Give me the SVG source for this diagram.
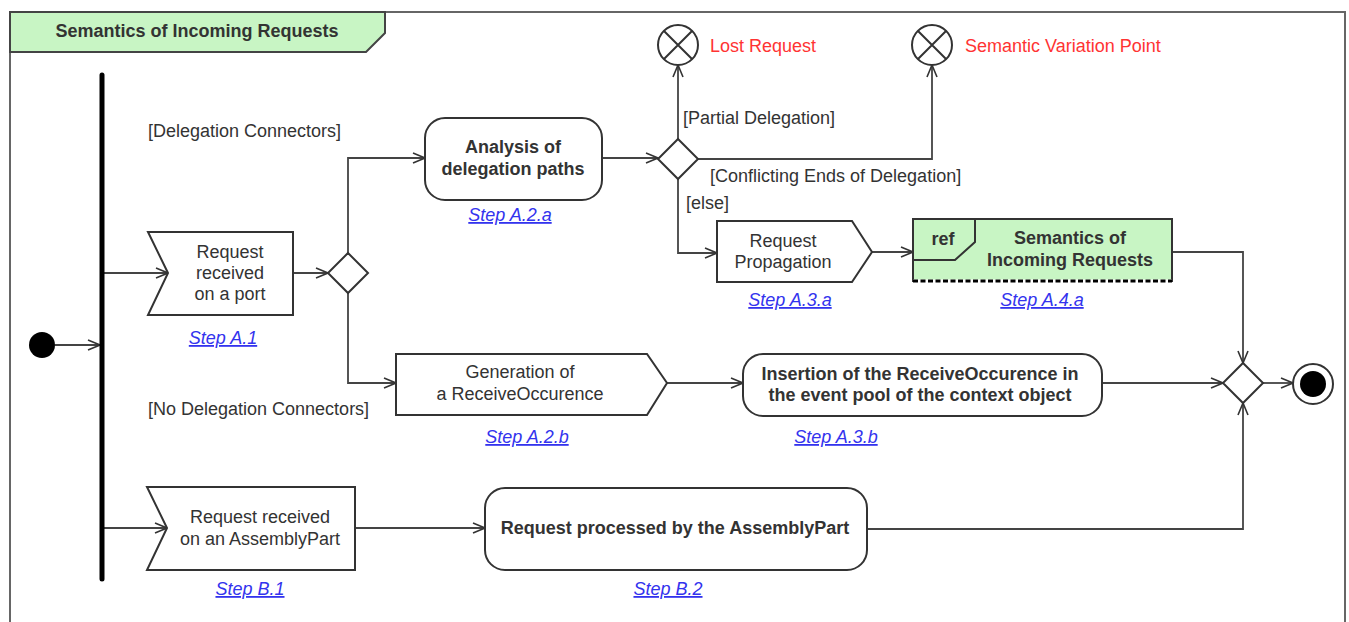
<svg xmlns="http://www.w3.org/2000/svg" width="1349" height="622" viewBox="0 0 1349 622">
<style>
text{font-family:"Liberation Sans",Arial,sans-serif;font-size:18px;fill:#333}
.b{font-weight:bold}
.c{text-anchor:middle}
.red{fill:#ff3333}
.lnk{fill:#3333ee;font-style:italic;text-decoration:underline;text-anchor:middle}
.node{fill:#fff;stroke:#333;stroke-width:2}
.green{fill:#c8f5c4}
.edge{fill:none;stroke:#444;stroke-width:1.8}
</style>
<defs>
<marker id="arr" viewBox="0 0 14 12" refX="13" refY="6" markerWidth="14" markerHeight="12" markerUnits="userSpaceOnUse" orient="auto">
<path d="M1,1 L13,6 L1,11" fill="none" stroke="#333" stroke-width="1.6"/>
</marker>
</defs>
<rect width="1349" height="622" fill="#fff"/>
<g id="frame">
<path d="M10,622 V12 H1345 V622" fill="none" stroke="#666" stroke-width="2"/>
<path d="M10,12 H385 V33 L366,52 H10 Z" class="green" stroke="#444" stroke-width="2"/>
<text class="b c" x="197" y="37">Semantics of Incoming Requests</text>
</g>
<g id="connectors">
<path class="edge" d="M55,345 H100" marker-end="url(#arr)"/>
<path class="edge" d="M104,273 H168" marker-end="url(#arr)"/>
<path class="edge" d="M104,528 H167" marker-end="url(#arr)"/>
<path class="edge" d="M293,273 H328" marker-end="url(#arr)"/>
<path class="edge" d="M348,253 V158 H425" marker-end="url(#arr)"/>
<path class="edge" d="M348,293 V383 H396" marker-end="url(#arr)"/>
<path class="edge" d="M602,158 H658" marker-end="url(#arr)"/>
<path class="edge" d="M678,139 V65" marker-end="url(#arr)"/>
<path class="edge" d="M698,159 H932 V65" marker-end="url(#arr)"/>
<path class="edge" d="M678,179 V253 H717" marker-end="url(#arr)"/>
<path class="edge" d="M872,252 H913" marker-end="url(#arr)"/>
<path class="edge" d="M1172,252 H1243 V363" marker-end="url(#arr)"/>
<path class="edge" d="M667,383 H743" marker-end="url(#arr)"/>
<path class="edge" d="M1102,383 H1223" marker-end="url(#arr)"/>
<path class="edge" d="M355,528 H485" marker-end="url(#arr)"/>
<path class="edge" d="M867,529 H1243 V403" marker-end="url(#arr)"/>
<path class="edge" d="M1263,383 H1293" marker-end="url(#arr)"/>
<text x="148" y="137">[Delegation Connectors]</text>
<text x="148" y="415">[No Delegation Connectors]</text>
<text x="683" y="124">[Partial Delegation]</text>
<text x="710" y="182">[Conflicting Ends of Delegation]</text>
<text x="686" y="209">[else]</text>
</g>
<g id="initial"><circle cx="42" cy="345" r="13" fill="#000"/></g>
<g id="fork"><line x1="102" y1="75" x2="102" y2="579" stroke="#000" stroke-width="5" stroke-linecap="round"/></g>
<g id="stepA1">
<path class="node" d="M148,232 H293 V315 H148 L168,273 Z"/>
<text class="c" x="230" y="258">Request</text>
<text class="c" x="230" y="279">received</text>
<text class="c" x="230" y="300">on a port</text>
<text class="lnk" x="223" y="344">Step A.1</text>
</g>
<g id="decision1"><path class="node" d="M348,253 L368,273 L348,293 L328,273 Z"/></g>
<g id="stepA2a">
<rect class="node" x="425" y="118" width="177" height="82" rx="20"/>
<text class="b c" x="513" y="153">Analysis of</text>
<text class="b c" x="513" y="175">delegation paths</text>
<text class="lnk" x="510" y="221">Step A.2.a</text>
</g>
<g id="decision2"><path class="node" d="M678,139 L698,159 L678,179 L658,159 Z"/></g>
<g id="lostRequest">
<circle class="node" cx="678" cy="45" r="20"/>
<path d="M664,31 L692,59 M692,31 L664,59" stroke="#333" stroke-width="2"/>
<text class="red" x="710" y="52">Lost Request</text>
</g>
<g id="semanticVariation">
<circle class="node" cx="932" cy="45" r="20"/>
<path d="M918,31 L946,59 M946,31 L918,59" stroke="#333" stroke-width="2"/>
<text class="red" x="965" y="52">Semantic Variation Point</text>
</g>
<g id="stepA3a">
<path class="node" d="M717,221 H852 L872,252 L852,282 H717 Z"/>
<text class="c" x="783" y="247">Request</text>
<text class="c" x="783" y="268">Propagation</text>
<text class="lnk" x="790" y="306">Step A.3.a</text>
</g>
<g id="stepA4a">
<rect class="green" x="913" y="219" width="259" height="62" stroke="#333" stroke-width="2"/>
<line x1="913" y1="281" x2="1172" y2="281" stroke="#fff" stroke-width="3"/>
<line x1="913" y1="281" x2="1172" y2="281" stroke="#000" stroke-width="3" stroke-dasharray="5,2.5"/>
<path d="M913,219 H975 V242 L955,260 H913" fill="none" stroke="#333" stroke-width="2"/>
<text class="b c" x="943" y="245">ref</text>
<text class="b c" x="1070" y="244">Semantics of</text>
<text class="b c" x="1070" y="266">Incoming Requests</text>
<text class="lnk" x="1042" y="306">Step A.4.a</text>
</g>
<g id="stepA2b">
<path class="node" d="M396,354 H647 L667,383 L647,415 H396 Z"/>
<text class="c" x="520" y="378">Generation of</text>
<text class="c" x="520" y="400">a ReceiveOccurence</text>
<text class="lnk" x="527" y="443">Step A.2.b</text>
</g>
<g id="stepA3b">
<rect class="node" x="743" y="354" width="359" height="62" rx="20"/>
<text class="b c" x="920" y="380">Insertion of the ReceiveOccurence in</text>
<text class="b c" x="920" y="401">the event pool of the context object</text>
<text class="lnk" x="836" y="443">Step A.3.b</text>
</g>
<g id="merge"><path class="node" d="M1243,363 L1263,383 L1243,403 L1223,383 Z"/></g>
<g id="final">
<circle cx="1313" cy="384" r="20" fill="#fff" stroke="#333" stroke-width="2"/>
<circle cx="1313" cy="384" r="13" fill="#000"/>
</g>
<g id="stepB1">
<path class="node" d="M147,487 H355 V570 H147 L167,528 Z"/>
<text class="c" x="260" y="523">Request received</text>
<text class="c" x="260" y="545">on an AssemblyPart</text>
<text class="lnk" x="250" y="595">Step B.1</text>
</g>
<g id="stepB2">
<rect class="node" x="485" y="488" width="382" height="82" rx="20"/>
<text class="b c" x="675" y="534">Request processed by the AssemblyPart</text>
<text class="lnk" x="668" y="595">Step B.2</text>
</g>
</svg>
